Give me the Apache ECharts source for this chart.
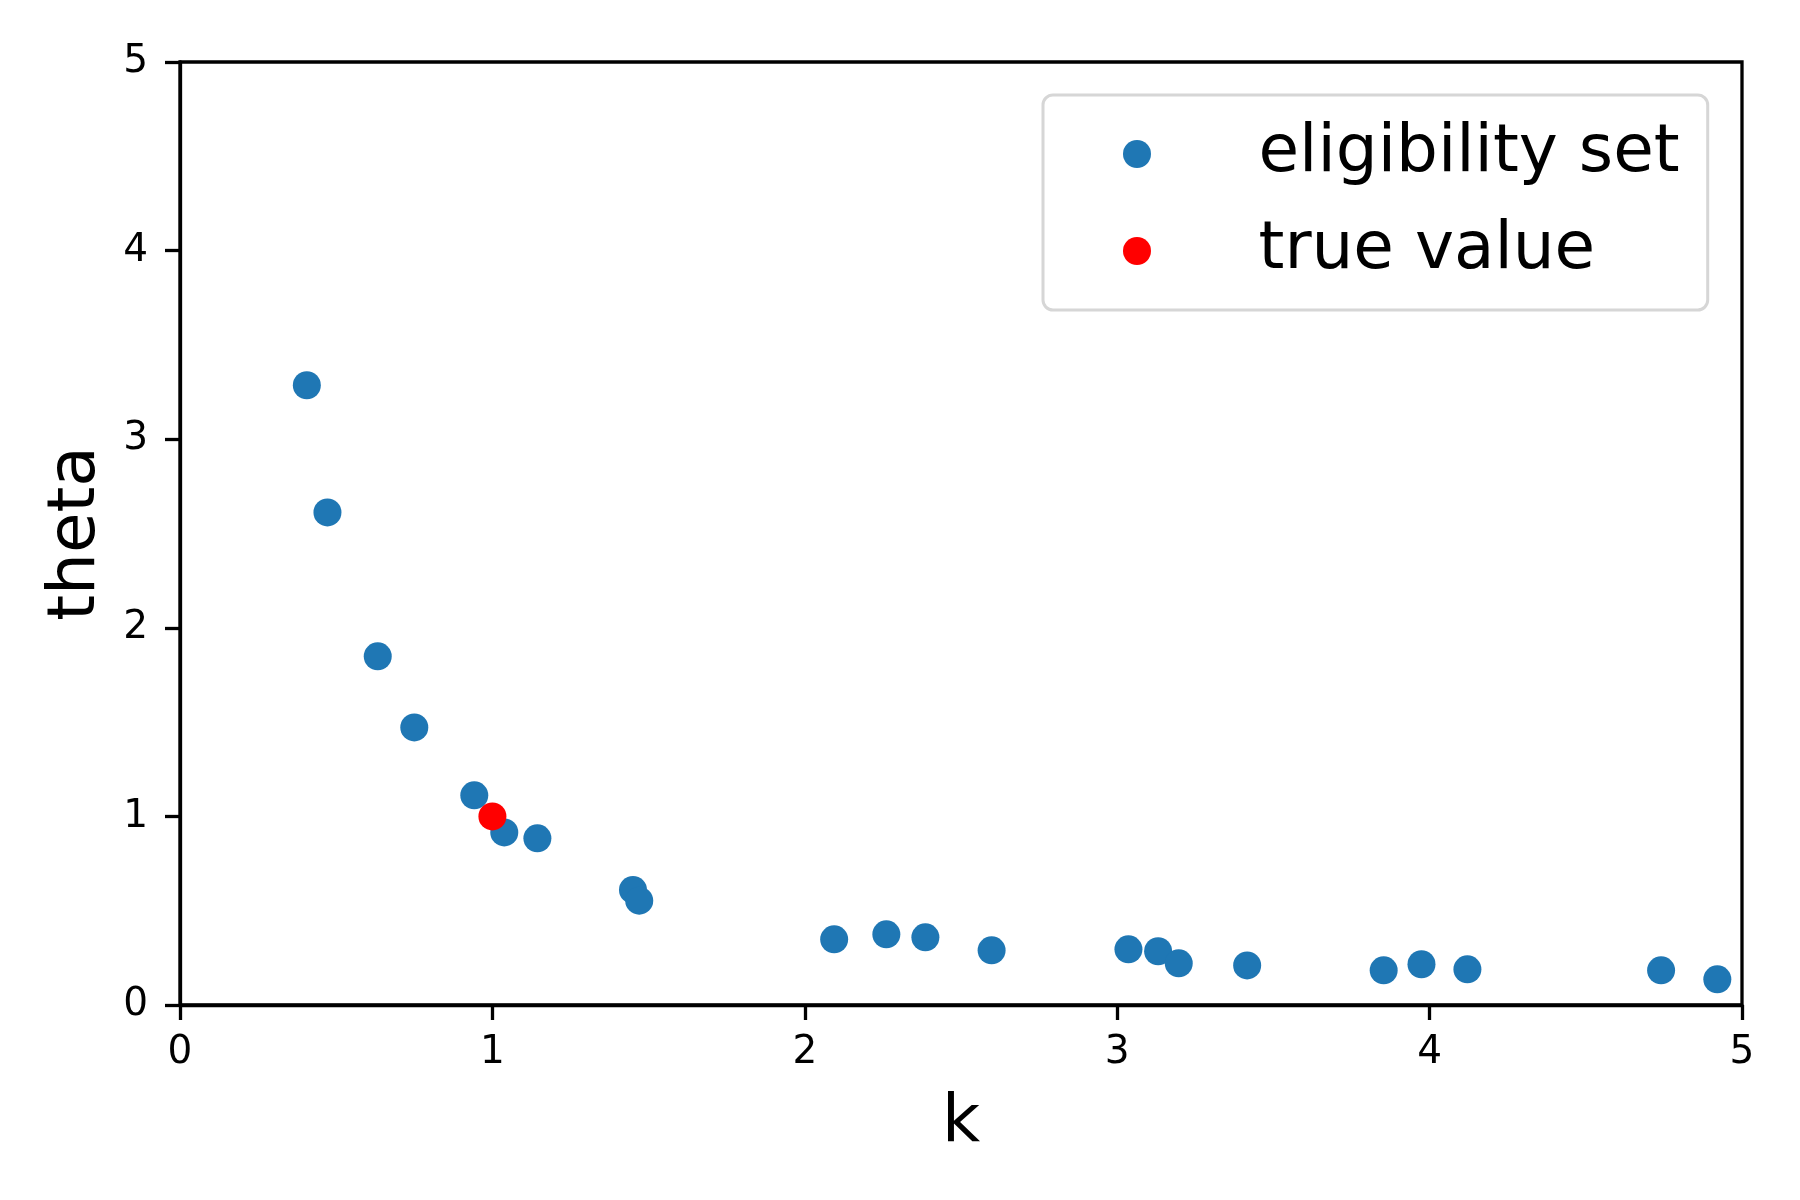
<!DOCTYPE html>
<html>
<head>
<meta charset="utf-8">
<script src="https://cdn.jsdelivr.net/npm/echarts@6/dist/echarts.min.js"></script>
<style>
html,body{margin:0;padding:0;background:#fff;}
#chart{width:1800px;height:1200px;}
</style>
</head>
<body>
<div id="chart"></div>
<script>
// Data
const eligK = [0.406, 0.472, 0.633, 0.750, 0.942, 1.038, 1.144, 1.450, 1.470, 2.094, 2.261, 2.386, 2.598, 3.036, 3.131, 3.197, 3.416, 3.853, 3.974, 4.121, 4.741, 4.921];
const eligTheta = [3.286, 2.612, 1.849, 1.472, 1.112, 0.915, 0.884, 0.610, 0.553, 0.348, 0.375, 0.359, 0.290, 0.295, 0.285, 0.221, 0.210, 0.184, 0.216, 0.189, 0.184, 0.136];
const trueK = [1.0];
const trueTheta = [1.0];
const seriesNames = ['eligibility set', 'true value'];
const xTicks = [0, 1, 2, 3, 4, 5];
const yTicks = [0, 1, 2, 3, 4, 5];

const font = 'DejaVu Sans';
const chart = echarts.init(document.getElementById('chart'), null, {renderer: 'canvas'});
const axisCommon = {
  type: 'value', min: 0, max: 5, interval: 1,
  axisLine: {show: true, lineStyle: {color: '#000', width: 3.3}},
  axisTick: {show: true, inside: false, length: 15, lineStyle: {color: '#000', width: 3.3}},
  splitLine: {show: false},
  axisLabel: {color: '#000', fontFamily: font, fontSize: 39},
  nameTextStyle: {color: '#000', fontFamily: font, fontSize: 66},
  nameLocation: 'middle'
};
chart.setOption({
  animation: false,
  backgroundColor: '#fff',
  grid: {left: 180, top: 62, right: 58, bottom: 195, show: true, borderColor: '#000', borderWidth: 3.3, backgroundColor: 'transparent'},
  xAxis: Object.assign({}, axisCommon, {
    name: 'k', nameGap: 86,
    axisLabel: Object.assign({}, axisCommon.axisLabel, {margin: 28, formatter: v => xTicks.includes(v) ? String(v) : ''})
  }),
  yAxis: Object.assign({}, axisCommon, {
    name: 'theta', nameGap: 70,
    axisLabel: Object.assign({}, axisCommon.axisLabel, {margin: 32, formatter: v => yTicks.includes(v) ? String(v) : ''})
  }),
  legend: {
    orient: 'vertical', left: 1043, top: 95,
    padding: [24, 28, 24, 80],
    itemWidth: 233, itemHeight: 28, itemGap: 27,
    borderColor: '#d6d6d6', borderWidth: 3, borderRadius: 10,
    backgroundColor: 'rgba(255,255,255,0.8)',
    icon: 'circle',
    textStyle: {color: '#000', fontFamily: font, fontSize: 66, lineHeight: 70},
    data: seriesNames
  },
  series: [
    {name: seriesNames[0], type: 'scatter', symbol: 'circle', symbolSize: 28,
     itemStyle: {color: '#1f77b4', opacity: 1},
     data: eligK.map((k, i) => [k, eligTheta[i]])},
    {name: seriesNames[1], type: 'scatter', symbol: 'circle', symbolSize: 28, z: 3,
     itemStyle: {color: '#ff0000', opacity: 1},
     data: trueK.map((k, i) => [k, trueTheta[i]])}
  ]
});
</script>
</body>
</html>
